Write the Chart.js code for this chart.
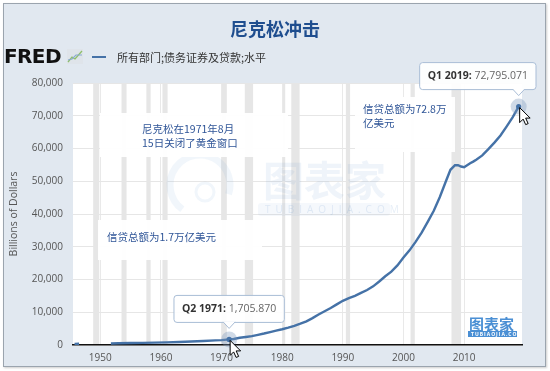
<!DOCTYPE html>
<html>
<head>
<meta charset="utf-8">
<script src="https://cdn.jsdelivr.net/npm/chart.js@4"></script>
<style>
    html, body { margin: 0; padding: 0; width: 550px; height: 371px; overflow: hidden; background: #fff; }
    #frame { position: absolute; left: 3px; top: 3px; width: 541px; height: 362px; border: 1px solid #9ba4ae; background: #e1e8f0; box-shadow: 1px 1px 2px rgba(0,0,0,.2); }
    #c { position: absolute; left: 0; top: 0; }
    .title { position: absolute; left: 0; width: 550px; top: 15px; text-align: center; font: bold 18px "Noto Sans CJK SC", sans-serif; color: #1f4e8f; }
    .fred { position: absolute; left: 4px; top: 44px; font: bold 20px "DejaVu Sans", sans-serif; letter-spacing: -0.6px; color: #111; }
    .fred-icon { position: absolute; left: 67px; top: 49px; }
    .leg-line { position: absolute; left: 92px; top: 56px; width: 14px; height: 2px; background: #4572a7; }
    .leg-text { position: absolute; left: 117px; top: 49px; font: 11px "Noto Sans CJK SC", sans-serif; color: #333; }
</style>
</head>
<body>
<div id="frame"></div>
<canvas id="c" width="550" height="371"></canvas>
<div class="title">尼克松冲击</div>
<div class="fred">FRED</div>
<svg class="fred-icon" width="16" height="15" viewBox="0 0 16 15">
    <rect x="0" y="0" width="16" height="15" fill="#dfe4ea"/>
    <polyline points="1,13 5,8 8,10 15,2" fill="none" stroke="#8fbf6a" stroke-width="1.3"/>
    <polyline points="1,11 5,10 9,6 15,6" fill="none" stroke="#8aaad0" stroke-width="1.1"/>
</svg>
<div class="leg-line"></div>
<div class="leg-text">所有部门;债务证券及贷款;水平</div>
<script>
    // Data: all sectors; debt securities and loans (billions of dollars)
    const years = [1945.75, 1946.5, 1949, 1951.75, 1953, 1955, 1957, 1959, 1961, 1963, 1965, 1967, 1969, 1970,
        1971.25, 1972, 1973, 1974, 1975, 1976, 1977, 1978, 1979, 1980, 1981, 1982, 1983, 1984, 1985, 1986,
        1987, 1988, 1989, 1990, 1991, 1992, 1993, 1994, 1995, 1996, 1997, 1998, 1999, 2000, 2001, 2002,
        2003, 2004, 2005, 2006, 2007, 2007.75, 2008.5, 2009, 2009.5, 2010, 2010.5, 2011, 2011.5, 2012,
        2013, 2014, 2015, 2016, 2017, 2018, 2019];
    const values = [355, 365, null, 480, 520, 590, 650, 730, 810, 930, 1060, 1200, 1400, 1500,
        1705.87, 1850, 2200, 2450, 2700, 3100, 3500, 3950, 4400, 4800, 5300, 5850, 6500, 7200, 8200, 9300,
        10300, 11300, 12400, 13500, 14300, 15000, 15900, 16800, 17900, 19400, 21000, 22400, 24300, 26700, 28900, 31500,
        34300, 37600, 41000, 45200, 50000, 53500, 54900, 54900, 54500, 54300, 54900, 55500, 56000, 56600,
        57900, 59800, 61800, 64000, 66700, 69500, 72795.071];

    const xTicks = [1950, 1960, 1970, 1980, 1990, 2000, 2010];
    const yTicks = [0, 10000, 20000, 30000, 40000, 50000, 60000, 70000, 80000];

    // recessions (start, end)
    const recStart = [1948.83, 1953.5, 1957.6, 1960.25, 1969.92, 1973.83, 1980.0, 1981.5, 1990.5, 2001.17, 2007.92];
    const recEnd = [1949.83, 1954.33, 1958.3, 1961.1, 1970.87, 1975.2, 1980.5, 1982.87, 1991.2, 2001.87, 2009.5];

    // hovered points
    const tipYears = [1971.25, 2019];
    const tipLabels = ['Q2 1971', 'Q1 2019'];

    const FONT = '"Open Sans", "Noto Sans CJK SC", sans-serif';
    const CJK = '"Noto Sans CJK SC", sans-serif';

    // text notes (pixel boxes)
    const notes = [
        { box: [100, 113, 188, 44], lines: ['尼克松在1971年8月', '15日关闭了黄金窗口'], tx: 142, ty: 129 },
        { box: [98, 220, 164, 40], lines: ['信贷总额为1.7万亿美元'], tx: 107, ty: 237 },
        { box: [355, 97, 100, 55], lines: ['信贷总额为72.8万', '亿美元'], tx: 363, ty: 109 }
    ];

    const backPlugin = {
        id: 'back',
        beforeDraw(chart) {
            const { ctx, chartArea: a, scales: { x } } = chart;
            ctx.save();
            ctx.fillStyle = '#fff';
            ctx.fillRect(a.left, a.top, a.right - a.left, a.bottom - a.top);
            ctx.fillStyle = '#e6e6e6';
            recStart.forEach((s, i) => {
                const x1 = x.getPixelForValue(s), x2 = x.getPixelForValue(recEnd[i]);
                ctx.fillRect(x1, a.top, Math.max(x2 - x1, 2), a.bottom - a.top);
            });
            ctx.restore();
        },
        beforeDatasetsDraw(chart) {
            const { ctx } = chart;
            ctx.save();
            // watermark
            ctx.fillStyle = 'rgba(80,135,200,0.09)';
            ctx.font = 'bold 41px ' + CJK;
            ctx.textBaseline = 'middle';
            ctx.fillText('图表家', 263, 180);
            ctx.beginPath();
            ctx.roundRect(258, 203, 132, 13, 3);
            ctx.fillStyle = 'rgba(80,135,200,0.06)';
            ctx.fill();
            ctx.fillStyle = 'rgba(80,135,200,0.14)';
            ctx.font = '10px ' + FONT;
            ctx.letterSpacing = '5px';
            ctx.fillText('TUBIAOJIA.COM', 265, 210);
            ctx.letterSpacing = '0px';
            ctx.strokeStyle = 'rgba(80,135,200,0.08)';
            ctx.lineWidth = 7;
            ctx.beginPath();
            ctx.arc(200, 185, 30, Math.PI * 0.7, Math.PI * 2.1);
            ctx.stroke();
            ctx.lineWidth = 3;
            ctx.beginPath();
            ctx.arc(205, 192, 9, 0, Math.PI * 2);
            ctx.stroke();
            // note boxes
            notes.forEach(n => {
                const [bx, by, bw, bh] = n.box;
                ctx.fillStyle = 'rgba(255,255,255,0.96)';
                ctx.fillRect(bx, by, bw, bh);
                ctx.fillStyle = '#2f5597';
                ctx.font = '10.5px ' + CJK;
                ctx.textBaseline = 'middle';
                n.lines.forEach((l, i) => ctx.fillText(l, n.tx, n.ty + i * 14));
            });
            // bottom-right logo
            ctx.fillStyle = '#4a8fd4';
            ctx.font = 'bold 15px ' + CJK;
            ctx.textAlign = 'left';
            ctx.fillText('图表家', 469, 324);
            ctx.fillRect(468, 331, 49, 6);
            ctx.fillStyle = '#fff';
            ctx.font = 'bold 5px ' + FONT;
            ctx.letterSpacing = '1px';
            ctx.fillText('TUBIAOJIA.COM', 471, 334.5);
            ctx.letterSpacing = '0px';
            ctx.restore();
        },
        afterDatasetsDraw(chart) {
            const { ctx, scales: { x, y } } = chart;
            ctx.save();
            tipYears.forEach((yr, i) => {
                const idx = years.indexOf(yr);
                const v = values[idx];
                const px = x.getPixelForValue(yr), py = y.getPixelForValue(v);
                // halo + dot
                ctx.fillStyle = 'rgba(120,148,185,0.35)';
                ctx.beginPath(); ctx.arc(px, py, 8, 0, Math.PI * 2); ctx.fill();
                ctx.fillStyle = '#4572a7';
                ctx.beginPath(); ctx.arc(px, py, 2.6, 0, Math.PI * 2); ctx.fill();
                // tooltip
                const head = tipLabels[i] + ':';
                const val = ' ' + v.toLocaleString('en-US', { minimumFractionDigits: 3, maximumFractionDigits: 3 });
                ctx.font = 'bold 10.5px ' + FONT;
                const w1 = ctx.measureText(head).width;
                ctx.font = '10.5px ' + FONT;
                const w2 = ctx.measureText(val).width;
                const bw = w1 + w2 + 16, bh = 27;
                let bx = px - bw / 2;
                if (bx + bw > 536) bx = 536 - bw;
                const by = py - 44;
                ctx.beginPath();
                ctx.roundRect(bx, by, bw, bh, 3);
                ctx.fillStyle = 'rgba(255,255,255,0.92)';
                ctx.fill();
                ctx.strokeStyle = '#a9bdd6';
                ctx.lineWidth = 1;
                ctx.stroke();
                // notch
                ctx.beginPath();
                ctx.moveTo(px - 6, by + bh - 0.5);
                ctx.lineTo(px, by + bh + 6);
                ctx.lineTo(px + 6, by + bh - 0.5);
                ctx.fillStyle = '#fff';
                ctx.fill();
                ctx.strokeStyle = '#a9bdd6';
                ctx.stroke();
                ctx.textBaseline = 'middle';
                ctx.fillStyle = '#333';
                ctx.font = 'bold 10.5px ' + FONT;
                ctx.fillText(head, bx + 8, by + bh / 2);
                ctx.fillStyle = '#666';
                ctx.font = '10.5px ' + FONT;
                ctx.fillText(val, bx + 8 + w1, by + bh / 2);
                // cursor
                const cx = px + 1, cy = py + 1;
                ctx.beginPath();
                ctx.moveTo(cx, cy);
                ctx.lineTo(cx, cy + 15);
                ctx.lineTo(cx + 3.5, cy + 11.5);
                ctx.lineTo(cx + 6, cy + 17);
                ctx.lineTo(cx + 8.5, cy + 16);
                ctx.lineTo(cx + 6, cy + 10.5);
                ctx.lineTo(cx + 10.5, cy + 10.5);
                ctx.closePath();
                ctx.fillStyle = '#fff';
                ctx.fill();
                ctx.strokeStyle = '#000';
                ctx.lineWidth = 1;
                ctx.stroke();
            });
            ctx.restore();
        }
    };

    new Chart(document.getElementById('c'), {
        type: 'line',
        data: {
            datasets: [{
                data: years.map((yr, i) => ({ x: yr, y: values[i] })),
                borderColor: '#4572a7',
                borderWidth: 2.4,
                pointRadius: 0,
                tension: 0,
                spanGaps: false
            }]
        },
        options: {
            responsive: false,
            animation: false,
            events: [],
            layout: { padding: { top: 83, right: 28, left: 0, bottom: 0 } },
            plugins: { legend: { display: false }, tooltip: { enabled: false } },
            scales: {
                x: {
                    type: 'linear',
                    min: 1945.5,
                    max: 2019.55,
                    afterBuildTicks: s => { s.ticks = xTicks.map(v => ({ value: v })); },
                    afterFit: s => { s.height = 26; },
                    ticks: { autoSkip: false, maxRotation: 0, callback: v => String(v), color: '#555', font: { size: 10, family: FONT }, padding: 7 },
                    grid: { color: '#e9e9e9', drawTicks: false },
                    border: { color: '#111', width: 1.5 }
                },
                y: {
                    min: 0,
                    max: 80000,
                    afterBuildTicks: s => { s.ticks = yTicks.map(v => ({ value: v })); },
                    afterFit: s => { s.width = 73; },
                    ticks: { callback: v => v.toLocaleString('en-US'), color: '#555', font: { size: 10, family: FONT }, padding: 10 },
                    grid: { color: '#e6e6e6', drawTicks: false },
                    border: { display: false },
                    title: { display: true, text: 'Billions of Dollars', color: '#555', font: { size: 10.5, family: FONT }, padding: { top: 8, bottom: 0 } }
                }
            }
        },
        plugins: [backPlugin]
    });
</script>
</body>
</html>
